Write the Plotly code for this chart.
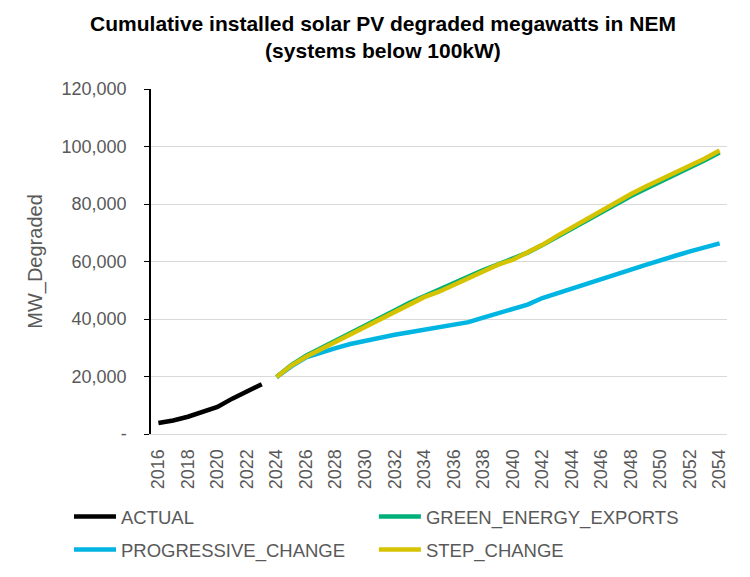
import plotly.graph_objects as go

# 历史数据与情景预测（MW，读图估计）
actual_years = list(range(2016, 2024))
actual = [3800, 4700, 6000, 7500, 9400, 12300, 15000, 17300]

scen_years = list(range(2024, 2055))
green_energy_exports = [19800, 24000, 27200, 29900, 32500, 35300, 38000, 40500, 43000, 45600,
                        48000, 50200, 52500, 54800, 57000, 59000, 60800, 63100, 65700, 68600,
                        71500, 74400, 77400, 80200, 82800, 85300, 87700, 90200, 92700, 95200,
                        97900]
progressive_change = [19800, 23500, 26700, 28400, 29900, 31300, 32500, 33700, 34500, 35400,
                      36300, 37000, 37900, 38900, 40500, 42100, 43500, 45000, 47300, 49000,
                      50800, 52500, 54200, 55800, 57200, 58800, 60200, 62000, 63500, 64900,
                      66300]
step_change = [19800, 23800, 26900, 29500, 32100, 34900, 37600, 40200, 42600, 45100,
               47600, 49500, 51900, 54500, 56800, 58900, 60600, 63100, 65800, 68900,
               71900, 74900, 77900, 80800, 83500, 86100, 88400, 90900, 93400, 95800,
               98600]

y_ticks = [0, 20000, 40000, 60000, 80000, 100000, 120000]
y_labels = ["-", "20,000", "40,000", "60,000", "80,000", "100,000", "120,000"]

GREY = "#595959"


def build_figure():
    fig = go.Figure()
    # 每条线单独一个图例，摆成两行两列
    series = [
        ("ACTUAL", actual_years, actual, "#000000", "legend"),
        ("GREEN_ENERGY_EXPORTS", scen_years, green_energy_exports, "#00B07B", "legend2"),
        ("PROGRESSIVE_CHANGE", scen_years, progressive_change, "#00B5E2", "legend3"),
        ("STEP_CHANGE", scen_years, step_change, "#D6C300", "legend4"),
    ]
    for name, xs, ys, color, lg in series:
        fig.add_trace(go.Scatter(x=xs, y=ys, name=name, mode="lines", legend=lg,
                                 line=dict(color=color, width=4.5)))

    legend_style = dict(orientation="h", xanchor="left", yanchor="middle",
                        font=dict(size=18.5, color=GREY),
                        itemwidth=42, bgcolor="rgba(0,0,0,0)")
    col1, col2 = -0.1424, 0.387
    row1, row2 = -0.2406, -0.336
    fig.update_layout(
        width=750, height=577,
        margin=dict(l=143, r=31, t=81, b=151, autoexpand=False),
        paper_bgcolor="white", plot_bgcolor="white",
        font=dict(family="Liberation Sans, Arial", color=GREY, size=18),
        title=dict(text="<b>Cumulative installed solar PV degraded megawatts in NEM<br>(systems below 100kW)</b>",
                   x=0.5, xanchor="center", y=0.96, yanchor="top",
                   font=dict(size=21, color="#000000")),
        showlegend=True,
        legend=dict(x=col1, y=row1, **legend_style),
        legend2=dict(x=col2, y=row1, **legend_style),
        legend3=dict(x=col1, y=row2, **legend_style),
        legend4=dict(x=col2, y=row2, **legend_style),
    )
    fig.update_xaxes(
        range=[2015.5, 2054.5], tick0=2016, dtick=2, tickangle=-90,
        showgrid=False, showline=True, linecolor="#D9D9D9", linewidth=1,
        ticks="", tickfont=dict(size=18, color=GREY), zeroline=False,
        ticklabelstandoff=7,
    )
    fig.update_yaxes(
        range=[0, 120000], tickvals=y_ticks, ticktext=y_labels,
        showgrid=True, gridcolor="#D9D9D9", gridwidth=1,
        showline=True, linecolor="#000000", linewidth=1.5,
        ticks="outside", ticklen=5, tickcolor="#000000",
        tickfont=dict(size=18, color=GREY), zeroline=False,
        ticklabelstandoff=14,
        title=dict(text="MW_Degraded", font=dict(size=20, color=GREY), standoff=14),
    )
    return fig


def main():
    fig = build_figure()
    fig.write_html("out.html")


if __name__ == "__main__":
    main()
